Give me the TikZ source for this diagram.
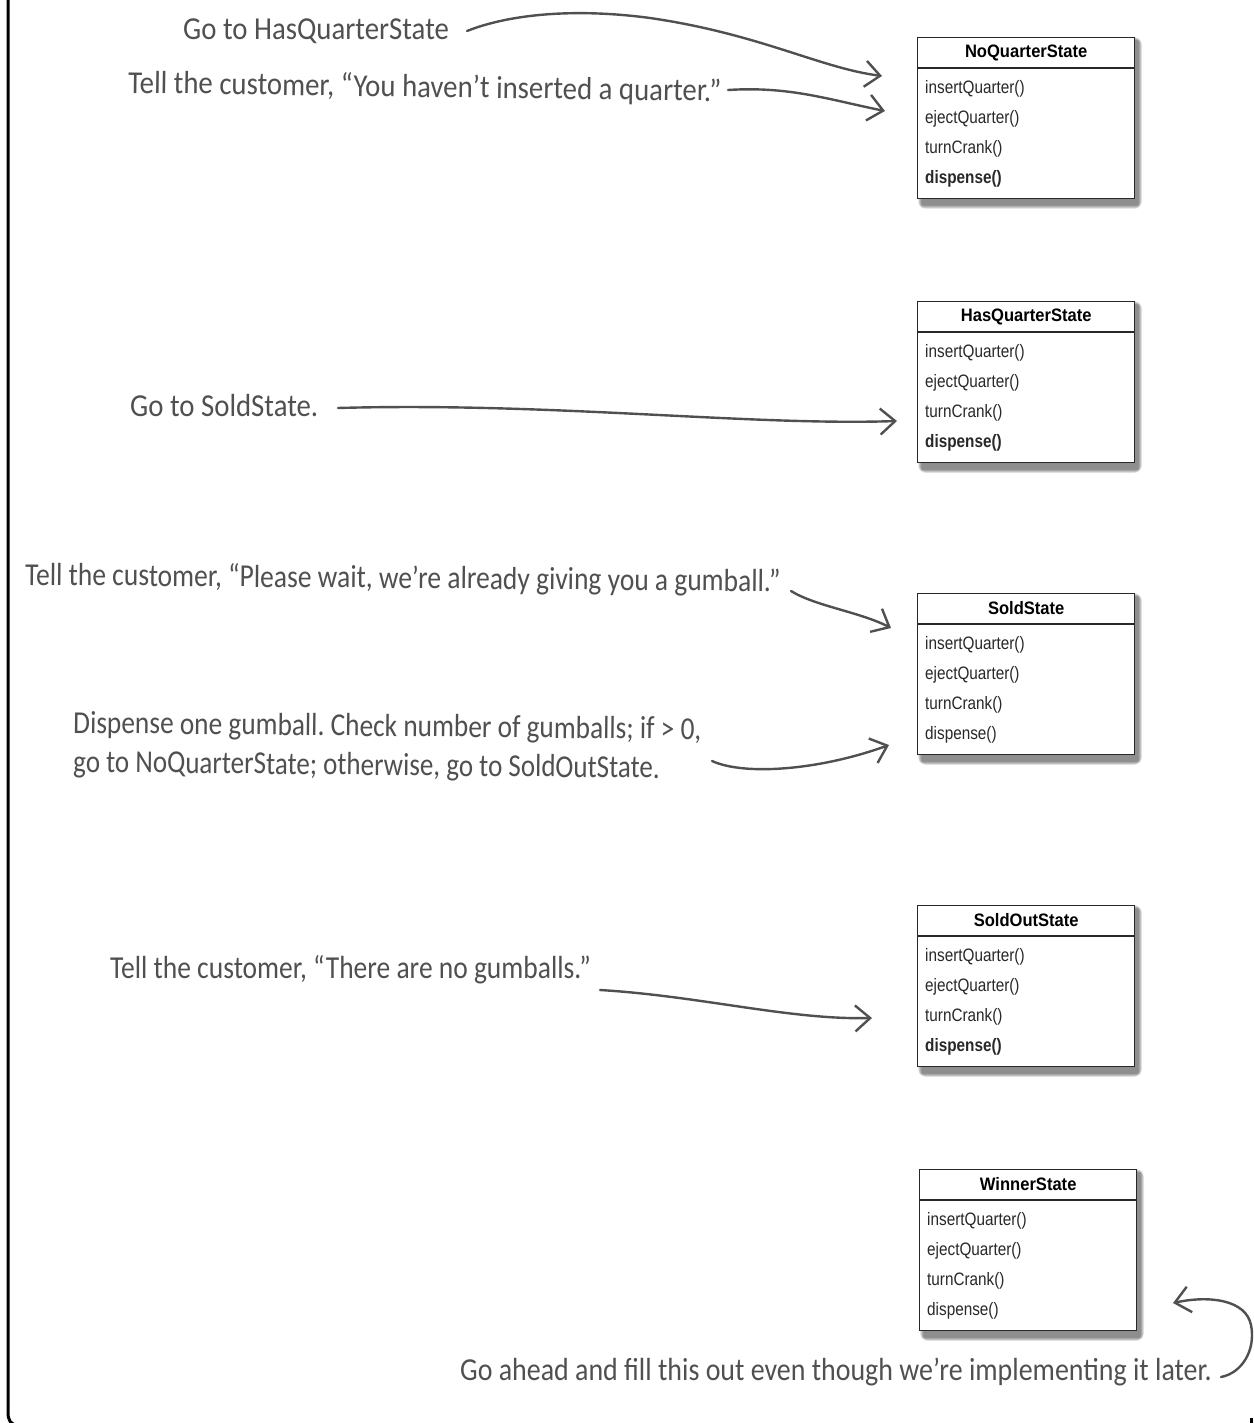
\documentclass[tikz,border=0pt]{standalone}
\usepackage{fontspec}
\setmainfont{Liberation Sans}
\newfontfamily\boxfont[FakeStretch=0.85]{Liberation Sans}
\newfontfamily\titlefont[FakeStretch=0.92]{Liberation Sans}
\newfontfamily\handfont[FakeStretch=0.9]{Carlito}
\usetikzlibrary{arrows.meta}
\definecolor{ink}{RGB}{80,80,80}
\definecolor{boxink}{RGB}{40,40,40}
\frenchspacing
\tikzset{
  hand/.style={font=\handfont\fontsize{32}{38}\selectfont, text=ink, anchor=base west, inner sep=0pt},
  notearrow/.style={draw=ink, line width=2.4pt, line cap=round,
    -{Straight Barb[length=15pt,width=26pt,line width=2.4pt]}},
  statebox/.style={draw=boxink, line width=1.4pt, fill=white, minimum width=217pt, minimum height=161pt, inner sep=0pt, anchor=north west},
  titletext/.style={font=\titlefont\bfseries\fontsize{18}{20}\selectfont, text=black, inner sep=0pt},
  methtext/.style={font=\boxfont\fontsize{18}{20}\selectfont, text=boxink, inner sep=0pt, anchor=west},
  frameline/.style={draw=black, line width=3pt}
}
% #1 name, #2 left, #3 top, #4 title, #5..#8 methods
\newcommand{\umlstate}[8]{%
  \foreach \r in {1,...,8}{%
    \fill[black, opacity=0.07, rounded corners=\r pt] (#2+5-\r/2, #3+4-\r/2) rectangle (#2+217+4+\r/2, #3+161+7+\r/2);
  }
  \node[statebox] (#1) at (#2,#3) {};
  \draw[boxink, line width=1.4pt] ([yshift=-31pt]#1.north west) -- ([yshift=-31pt]#1.north east);
  \node[titletext] (#1-t) at ([yshift=-15.5pt]#1.north) {#4};
  \node[methtext] (#1-a) at ([xshift=8pt,yshift=-52pt]#1.north west) {#5};
  \node[methtext] (#1-b) at ([xshift=8pt,yshift=-82pt]#1.north west) {#6};
  \node[methtext] (#1-c) at ([xshift=8pt,yshift=-112pt]#1.north west) {#7};
  \node[methtext] (#1-d) at ([xshift=8pt,yshift=-142pt]#1.north west) {#8};
}
\begin{document}
\begin{tikzpicture}[x=1pt,y=-1pt]
\useasboundingbox (0,0) rectangle (1253,1423);
% frame
\draw[frameline] (8,-10) -- (8,1412) .. controls (8,1420) and (10,1424) .. (18,1426);
\draw[frameline] (1251,1418) -- (1251,1440);

% state boxes
\umlstate{nqs}{917}{37}{NoQuarterState}{insertQuarter()}{ejectQuarter()}{turnCrank()}{\bfseries dispense()}
\umlstate{hqs}{917}{301}{HasQuarterState}{insertQuarter()}{ejectQuarter()}{turnCrank()}{\bfseries dispense()}
\umlstate{sds}{917}{593}{SoldState}{insertQuarter()}{ejectQuarter()}{turnCrank()}{dispense()}
\umlstate{sos}{917}{905}{SoldOutState}{insertQuarter()}{ejectQuarter()}{turnCrank()}{\bfseries dispense()}
\umlstate{wns}{919}{1169}{WinnerState}{insertQuarter()}{ejectQuarter()}{turnCrank()}{dispense()}

% annotations
\node[hand] (a1) at (183,40) {Go to HasQuarterState};
\node[hand, rotate=-0.8] (a2) at (128,93) {Tell the customer, “You haven’t inserted a quarter.”};
\node[hand] (a3) at (130,416) {Go to SoldState.};
\node[hand, rotate=-0.5, xscale=0.955] (a4) at (25,585) {Tell the customer, “Please wait, we’re already giving you a gumball.”};
\node[hand, rotate=-0.6, xscale=0.95] (a5) at (73,733) {Dispense one gumball. Check number of gumballs; if > 0,};
\node[hand, rotate=-0.6, xscale=0.94] (a5b) at (73,772) {go to NoQuarterState; otherwise, go to SoldOutState.};
\node[hand, xscale=0.955] (a6) at (110,978) {Tell the customer, “There are no gumballs.”};
\node[hand, xscale=0.97] (a7) at (460,1380) {Go ahead and fill this out even though we’re implementing it later.};

% arrow end points
\coordinate (s1) at (467,31);   \coordinate (e1) at (882,76);
\coordinate (s2) at (728,90);   \coordinate (e2) at (885,111);
\coordinate (s3) at (338,408);  \coordinate (e3) at (897,421);
\coordinate (s4) at (791,591);  \coordinate (e4) at (891,628);
\coordinate (s5) at (712,761);  \coordinate (e5) at (889,745);
\coordinate (s6) at (600,990);  \coordinate (e6) at (872,1018);
\coordinate (s7) at (1221,1377); \coordinate (e7) at (1173,1303);

\draw[notearrow] (s1) .. controls (510,14) and (575,8) .. (650,18) .. controls (760,34) and (820,68) .. (e1);
\draw[notearrow] (s2) .. controls (790,86) and (830,100) .. (e2);
\draw[notearrow] (s3) .. controls (550,402) and (750,426) .. (e3);
\draw[notearrow] (s4) .. controls (815,606) and (860,612) .. (e4);
\draw[notearrow] (s5) .. controls (745,776) and (820,770) .. (e5);
\draw[notearrow] (s6) .. controls (700,996) and (790,1020) .. (e6);
\draw[notearrow] (s7) .. controls (1242,1373) and (1256,1350) .. (1251,1325) .. controls (1246,1300) and (1210,1295) .. (e7);
\end{tikzpicture}
\end{document}
